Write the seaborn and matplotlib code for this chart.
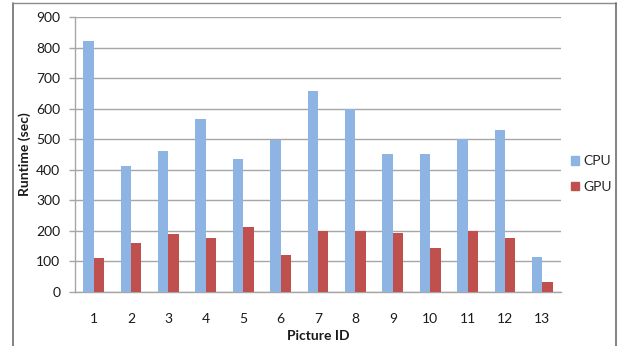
import matplotlib
matplotlib.use("Agg")
import matplotlib.pyplot as plt
from matplotlib.lines import Line2D
import seaborn as sns
import pandas as pd
import numpy as np

# Runtime per picture, CPU vs GPU
picture_ids = ["1", "2", "3", "4", "5", "6", "7", "8", "9", "10", "11", "12", "13"]
cpu_runtime = [821, 413, 462, 565, 435, 498, 659, 600, 451, 451, 500, 530, 114]
gpu_runtime = [111, 159, 190, 176, 213, 122, 201, 201, 193, 145, 201, 176, 32]
series_names = ["CPU", "GPU"]
y_ticks = [0, 100, 200, 300, 400, 500, 600, 700, 800, 900]

df = pd.DataFrame({
    "Picture ID": picture_ids * 2,
    "Runtime": cpu_runtime + gpu_runtime,
    "Device": [series_names[0]] * len(picture_ids) + [series_names[1]] * len(picture_ids),
})

sns.set_theme(style="white")
plt.rcParams["font.family"] = ["Lato", "DejaVu Sans"]

FS = 10
TXT = "#1A1A1A"

fig = plt.figure(figsize=(6.22, 3.46), dpi=100)
W, H = 622, 346
ax = fig.add_axes([75 / W, 1 - 292 / H, (561 - 75) / W, (292 - 17) / H])

palette = {"CPU": "#8EB4E3", "GPU": "#C0504D"}
sns.barplot(data=df, x="Picture ID", y="Runtime", hue="Device", order=picture_ids,
            hue_order=series_names, palette=palette, width=0.556, saturation=1,
            edgecolor="none", linewidth=0, ax=ax, legend=False, zorder=3)

ax.set_ylim(0, 900)
ax.set_xlim(-0.5, len(picture_ids) - 0.5)
ax.set_yticks(y_ticks)
ax.yaxis.grid(True, color="#A6A6A6", linewidth=1.0, zorder=0)
ax.set_axisbelow(True)

for side in ["top", "right"]:
    ax.spines[side].set_visible(False)
for side in ["left", "bottom"]:
    ax.spines[side].set_color("#A6A6A6")
    ax.spines[side].set_linewidth(1.0)

# category boundary tick marks, labels centred between them
ax.set_xticks(np.arange(-0.5, len(picture_ids)), minor=True)
ax.tick_params(axis="x", which="minor", length=4, width=1, color="#A6A6A6", direction="out")
ax.tick_params(axis="x", which="major", length=0, pad=15, labelsize=FS, labelcolor=TXT)
ax.tick_params(axis="y", which="major", left=True, length=4.5, width=1, color="#A6A6A6",
               direction="out", pad=6, labelsize=FS, labelcolor=TXT)

ax.set_xlabel("Picture ID", fontsize=FS, fontweight="bold", color=TXT, labelpad=4)
ax.set_ylabel("Runtime (sec)", fontsize=FS, fontweight="bold", color=TXT, labelpad=4)

# legend to the right of the plot area
handles = [plt.Rectangle((0, 0), 1, 1, color=palette[n]) for n in series_names]
fig.legend(handles, series_names, loc="center left", bbox_to_anchor=(564 / W, 1 - 174 / H),
           frameon=False, fontsize=FS, handlelength=0.6, handleheight=0.6,
           handletextpad=0.3, labelspacing=1.0, borderpad=0)

# chart border
fig.add_artist(Line2D([13 / W, 13 / W], [0, 1 - 3 / H], transform=fig.transFigure,
                      color="#6E6E6E", linewidth=1.2))
fig.add_artist(Line2D([13 / W, 616 / W], [1 - 3 / H, 1 - 3 / H], transform=fig.transFigure,
                      color="#8C8C8C", linewidth=1.0))
fig.add_artist(Line2D([616 / W, 616 / W], [0, 1 - 3 / H], transform=fig.transFigure,
                      color="#6E6E6E", linewidth=1.2))

fig.savefig("out.png", dpi=100, facecolor="white")
